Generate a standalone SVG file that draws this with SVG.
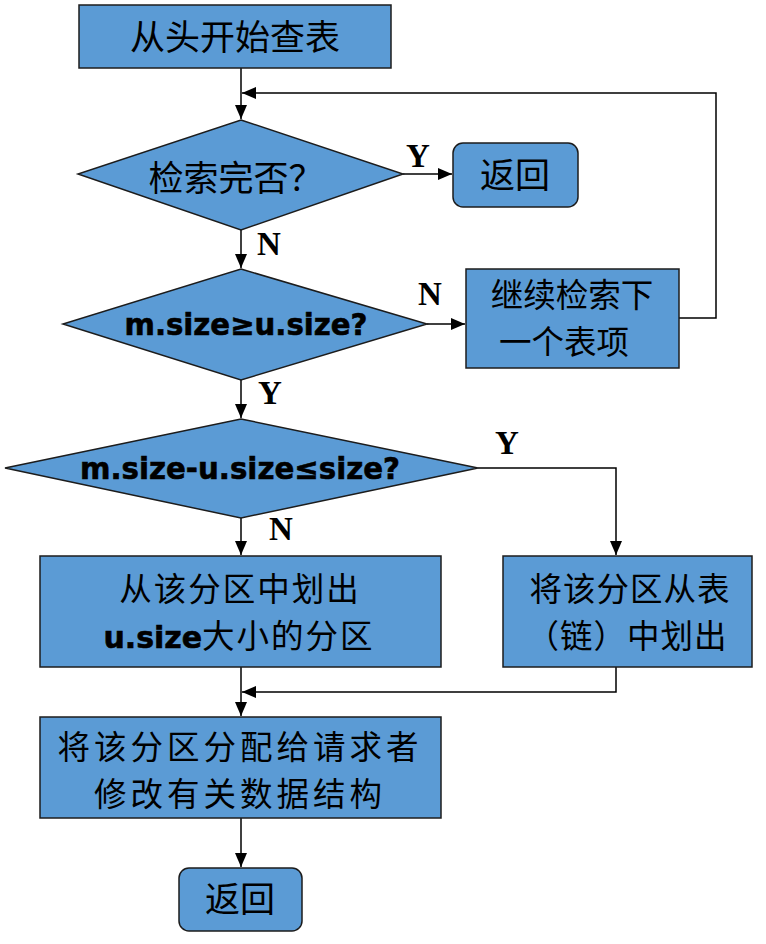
<svg xmlns="http://www.w3.org/2000/svg" width="766" height="944" viewBox="0 0 766 944">
<style>
.box{fill:#5b9bd5;stroke:#1c1c1c;stroke-width:1.5}
.cn{font-family:"Noto Sans CJK SC","Noto Sans",sans-serif;font-size:35px;fill:#000;text-anchor:middle}
.cn2{font-family:"Noto Sans CJK SC","Noto Sans",sans-serif;font-size:32.5px;fill:#000;text-anchor:middle}
.en{font-family:"DejaVu Sans",sans-serif;font-weight:bold;font-size:30px;fill:#000;text-anchor:middle;stroke:#000;stroke-width:0.6}
.lbl{font-family:"Liberation Serif",serif;font-weight:bold;font-size:33px;fill:#000}
.ln{fill:none;stroke:#000;stroke-width:1.5}
</style>
<defs>
<marker id="ah" markerUnits="userSpaceOnUse" markerWidth="14" markerHeight="12" refX="14" refY="6" orient="auto">
<path d="M0,0 L14,6 L0,12 z" fill="#000"/>
</marker>
</defs>
<rect width="766" height="944" fill="#fff"/>
<g id="connectors">
<path class="ln" d="M241,68 V119" marker-end="url(#ah)"/>
<path class="ln" d="M679,318 H716 V93 H242" marker-end="url(#ah)"/>
<path class="ln" d="M403,174 H452" marker-end="url(#ah)"/>
<path class="ln" d="M241,230 V268" marker-end="url(#ah)"/>
<path class="ln" d="M427,324 H465" marker-end="url(#ah)"/>
<path class="ln" d="M241,380 V418" marker-end="url(#ah)"/>
<path class="ln" d="M478,468 H616 V555" marker-end="url(#ah)"/>
<path class="ln" d="M241,518 V555" marker-end="url(#ah)"/>
<path class="ln" d="M241,667 V716" marker-end="url(#ah)"/>
<path class="ln" d="M616,667 V692 H242" marker-end="url(#ah)"/>
<path class="ln" d="M241,818 V867" marker-end="url(#ah)"/>
<text class="lbl" x="406" y="167">Y</text>
<text class="lbl" x="257" y="255">N</text>
<text class="lbl" x="418" y="305">N</text>
<text class="lbl" x="258" y="404">Y</text>
<text class="lbl" x="495" y="454">Y</text>
<text class="lbl" x="269" y="540">N</text>
</g>
<g id="start">
<rect class="box" x="79" y="5" width="312" height="63"/>
<text class="cn" x="235" y="50">从头开始查表</text>
</g>
<g id="check-done">
<polygon class="box" points="241,120 403,174 241,230 78,174"/>
<text class="cn" x="236" y="191">检索完否？</text>
</g>
<g id="return1">
<rect class="box" x="453" y="143" width="125" height="64" rx="10"/>
<text class="cn" x="515" y="188">返回</text>
</g>
<g id="check-size">
<polygon class="box" points="241,269 427,324 241,380 63,324"/>
<text class="en" x="246" y="335" textLength="243" lengthAdjust="spacingAndGlyphs">m.size≥u.size?</text>
</g>
<g id="next-item">
<rect class="box" x="466" y="269" width="213" height="99"/>
<text class="cn2" x="572" y="307">继续检索下</text>
<text class="cn2" x="564" y="354">一个表项</text>
</g>
<g id="check-remain">
<polygon class="box" points="241,419 478,468 241,518 5,468"/>
<text class="en" x="240" y="479" textLength="320" lengthAdjust="spacingAndGlyphs">m.size-u.size≤size?</text>
</g>
<g id="split">
<rect class="box" x="40" y="556" width="401" height="111"/>
<text class="cn2" x="240" y="601" letter-spacing="2">从该分区中划出</text>
<text x="239" y="648" text-anchor="middle" font-size="32.5" fill="#000"><tspan font-family="DejaVu Sans,sans-serif" font-weight="bold" font-size="30" stroke="#000" stroke-width="0.6">u.size</tspan><tspan font-family="Noto Sans CJK SC,sans-serif" letter-spacing="2">大小的分区</tspan></text>
</g>
<g id="remove">
<rect class="box" x="503" y="556" width="249" height="111"/>
<text class="cn2" x="630" y="601" letter-spacing="1">将该分区从表</text>
<text class="cn2" x="627" y="648" letter-spacing="1">（链）中划出</text>
</g>
<g id="allocate">
<rect class="box" x="40" y="717" width="401" height="101"/>
<text class="cn2" x="240" y="759" letter-spacing="4">将该分区分配给请求者</text>
<text class="cn2" x="240" y="806" letter-spacing="4">修改有关数据结构</text>
</g>
<g id="return2">
<rect class="box" x="179" y="868" width="123" height="63" rx="10"/>
<text class="cn" x="240" y="912">返回</text>
</g>
</svg>
